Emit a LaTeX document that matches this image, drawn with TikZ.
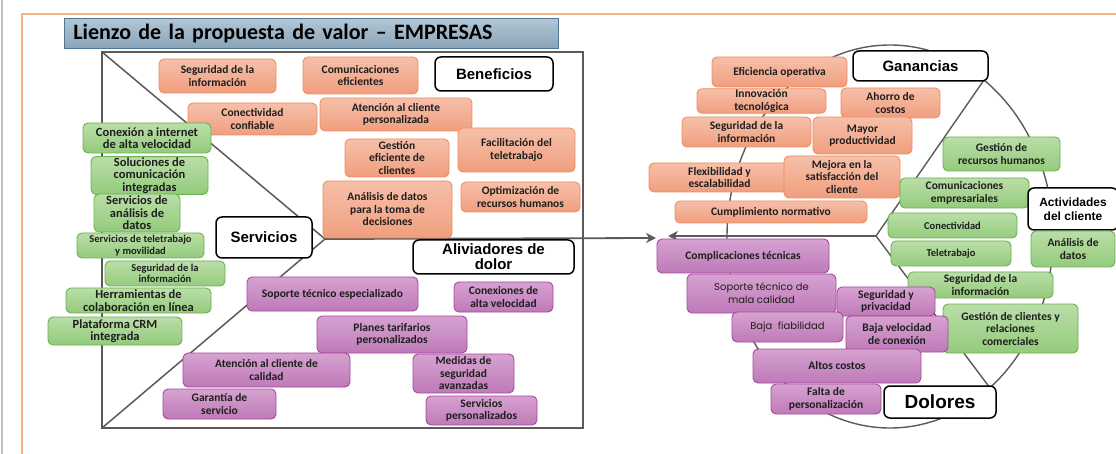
\documentclass[tikz,border=0pt]{standalone}
\usepackage{fontspec}
\setmainfont{Carlito}
\newfontfamily\headfont{Liberation Sans}
\newfontfamily\roundfont{Poppins}
\usetikzlibrary{arrows.meta}
\definecolor{gainTop}{RGB}{246,192,170}
\definecolor{gainBot}{RGB}{240,158,126}
\definecolor{gainLine}{RGB}{240,140,95}
\definecolor{servTop}{RGB}{186,222,168}
\definecolor{servBot}{RGB}{148,203,124}
\definecolor{servLine}{RGB}{106,176,76}
\definecolor{painTop}{RGB}{214,162,208}
\definecolor{painBot}{RGB}{190,122,184}
\definecolor{painLine}{RGB}{166,72,160}
\definecolor{titleTop}{RGB}{178,198,214}
\definecolor{titleBot}{RGB}{138,164,184}
\definecolor{titleLine}{RGB}{80,120,150}
\definecolor{frameOrange}{RGB}{244,177,131}
\definecolor{lineGray}{RGB}{90,90,90}
\definecolor{txtDark}{RGB}{30,30,30}

\begin{document}
\begin{tikzpicture}[x=1pt, y=-1pt,
    card/.style={rounded corners=5pt, line width=0.9pt, align=center, inner sep=1pt,
      text=txtDark, font=\bfseries\fontsize{11.5}{12.5}\selectfont},
    gain/.style={card, draw=gainLine, top color=gainTop, bottom color=gainBot},
    serv/.style={card, draw=servLine, top color=servTop, bottom color=servBot},
    pain/.style={card, draw=painLine, top color=painTop, bottom color=painBot},
    head/.style={draw=black, fill=white, rounded corners=6pt, line width=1.5pt, align=center,
      font=\headfont\bfseries\fontsize{15}{16}\selectfont},
    wh/.style 2 args={minimum width=#1pt, minimum height=#2pt},
    smalltxt/.style={font=\bfseries\fontsize{10.5}{11.5}\selectfont},
    bigtxt/.style={font=\bfseries\fontsize{12.5}{12.5}\selectfont},
    plaintxt/.style={font=\roundfont\fontsize{10}{13}\selectfont},
    canvas/.style={draw=lineGray, line width=1.8pt},
  ]
  \useasboundingbox (0,0) rectangle (1116,454);
  \draw[lightgray, line width=2pt] (1.5,0) -- (1.5,454);
  \draw[frameOrange, line width=1.2pt] (22,454) -- (22,14) -- (1116,14);

  \node[draw=titleLine, top color=titleTop, bottom color=titleBot, line width=0.6pt,
    anchor=north west, minimum height=30pt, inner xsep=9pt, text width=476pt, align=left,
    font=\bfseries\fontsize{22}{24}\selectfont] (title) at (64,18)
    {Lienzo de la propuesta de valor -- EMPRESAS};

  % propuesta de valor
  \draw[canvas] (102,52) rectangle (583,428);
  \coordinate (tip) at (325,239);
  \coordinate (arrowR) at (656,238);
  \draw[canvas, line width=1.5pt] (102,52) -- (tip) -- (102,428);
  \draw[canvas, -{Stealth[length=10pt,width=10pt]}] (tip) -- (arrowR);

  % perfil del cliente
  \draw[lineGray, line width=1.4pt] (890,236.5) ellipse [x radius=163, y radius=191.5];
  \coordinate (hub) at (876,236);
  \coordinate (arrowL) at (668,236);
  \coordinate (gainEnd) at (984,80);
  \coordinate (painEnd) at (990,388);
  \draw[canvas, -{Stealth[length=10pt,width=10pt]}] (hub) -- (arrowL);
  \draw[lineGray, line width=1.4pt] (gainEnd) -- (hub) -- (painEnd);

  % beneficios
  \node[gain, wh={117}{34}] (segInfoB) at (217.5,76) {Seguridad de la\\información};
  \node[gain, wh={115}{37}] (comEfic) at (360.5,75.5) {Comunicaciones\\eficientes};
  \node[head, wh={118}{34}] (beneficios) at (494,74) {Beneficios};
  \node[gain, wh={129}{32}] (conectConf) at (252.5,119) {Conectividad\\confiable};
  \node[gain, wh={152}{33}] (atencionPers) at (396,114.5) {Atención al cliente\\personalizada};
  \node[gain, wh={104}{38}] (gestionCli) at (397,158) {Gestión\\eficiente de\\clientes};
  \node[gain, wh={117}{44}] (facilTele) at (516.5,150) {Facilitación del\\teletrabajo};
  \node[gain, wh={129}{57}] (analisisDec) at (387.5,209.5) {Análisis de datos\\para la toma de\\decisiones};
  \node[gain, wh={119}{30}] (optimRRHH) at (520.5,197) {Optimización de\\recursos humanos};

  % servicios
  \node[head, wh={96}{41}] (servicios) at (264,237.5) {Servicios};
  \node[serv, bigtxt, wh={128}{30}] (conexInternet) at (147,138) {Conexión a internet\\de alta velocidad};
  \node[serv, bigtxt, wh={117}{35}] (solucComun) at (149.5,175.5) {Soluciones de\\comunicación\\integradas};
  \node[serv, bigtxt, wh={86}{38}] (servAnalisis) at (137,213) {Servicios de\\análisis de\\datos};
  \node[serv, smalltxt, wh={127}{25}] (servTele) at (140.5,245.5) {Servicios de teletrabajo\\y movilidad};
  \node[serv, smalltxt, wh={120}{25}] (segInfoS) at (165,273.5) {Seguridad de la\\información};
  \node[serv, bigtxt, wh={145}{25}] (herramColab) at (138.5,300.5) {Herramientas de\\colaboración en línea};
  \node[serv, bigtxt, wh={134}{28}] (plataformaCRM) at (115,331) {Plataforma CRM\\integrada};

  % aliviadores de dolor
  \node[head, wh={161}{34}, font=\headfont\bfseries\fontsize{15}{15}\selectfont] (aliviadores) at (493.5,257) {Aliviadores de\\dolor};
  \node[pain, wh={171}{34}] (soporteEsp) at (332.5,294) {Soporte técnico especializado};
  \node[pain, wh={99}{30}] (conexAlta) at (503.5,297) {Conexiones de\\alta velocidad};
  \node[pain, wh={150}{37}] (planesTarif) at (392,334.5) {Planes tarifarios\\personalizados};
  \node[pain, wh={167}{34}] (atencionCal) at (266.5,370) {Atención al cliente de\\calidad};
  \node[pain, wh={101}{39}] (medidasSeg) at (463.5,373.5) {Medidas de\\seguridad\\avanzadas};
  \node[pain, wh={113}{30}] (garantia) at (219.5,404) {Garantía de\\servicio};
  \node[pain, wh={111}{29}] (servPers) at (481.5,410.5) {Servicios\\personalizados};

  % ganancias
  \node[gain, wh={135}{30}] (eficiencia) at (779.5,72) {Eficiencia operativa};
  \node[head, wh={135}{30}] (ganancias) at (920.5,66) {Ganancias};
  \node[gain, wh={129}{22}] (innovacion) at (761.5,101) {Innovación\\tecnológica};
  \node[gain, wh={99}{30}] (ahorro) at (890.5,103) {Ahorro de\\costos};
  \node[gain, wh={129}{30}] (segInfoG) at (746.5,132) {Seguridad de la\\información};
  \node[gain, wh={99}{37}] (productividad) at (862.5,135.5) {Mayor\\productividad};
  \node[gain, wh={141}{29}] (flexibilidad) at (719.5,177.5) {Flexibilidad y\\escalabilidad};
  \node[gain, wh={116}{42}] (mejora) at (842,177) {Mejora en la\\satisfacción del\\cliente};
  \node[gain, wh={192}{22}] (cumplimiento) at (771,212) {Cumplimiento normativo};

  % actividades del cliente
  \node[serv, wh={117}{34}] (gestionRRHH) at (1001.5,154) {Gestión de\\recursos humanos};
  \node[serv, wh={129}{30}] (comEmpr) at (964.5,193) {Comunicaciones\\empresariales};
  \node[head, wh={90}{42}, font=\headfont\bfseries\fontsize{12}{13.5}\selectfont] (actividades) at (1073,209) {Actividades\\del cliente};
  \node[serv, smalltxt, wh={129}{25}] (conectividad) at (952.5,225.5) {Conectividad};
  \node[serv, wh={84}{36}] (analisisDatos) at (1073,249) {Análisis de\\datos};
  \node[serv, smalltxt, wh={120}{25}] (teletrabajo) at (951,253.5) {Teletrabajo};
  \node[serv, wh={145}{26}] (segInfoA) at (980.5,285) {Seguridad de la\\información};
  \node[serv, wh={135}{49}] (gestionRel) at (1010.5,328.5) {Gestión de clientes y\\relaciones\\comerciales};

  % dolores
  \node[pain, wh={172}{34}] (complicaciones) at (743,256) {Complicaciones técnicas};
  \node[pain, plaintxt, wh={149}{39}] (soporteMala) at (761.5,293.5) {Soporte técnico de\\mala calidad};
  \node[pain, wh={98}{29}] (seguridadPriv) at (886,301.5) {Seguridad y\\privacidad};
  \node[pain, plaintxt, wh={111}{30}] (bajaFiab) at (787.5,327) {Baja\ \ fiabilidad};
  \node[pain, wh={102}{36}] (bajaVeloc) at (897,334) {Baja velocidad\\de conexión};
  \node[pain, wh={168}{34}] (altosCostos) at (837,366) {Altos costos};
  \node[pain, wh={110}{30}] (faltaPers) at (826,399) {Falta de\\personalización};
  \node[head, wh={112}{32}, font=\headfont\bfseries\fontsize{19}{20}\selectfont] (dolores) at (940,402) {Dolores};
\end{tikzpicture}
\end{document}
